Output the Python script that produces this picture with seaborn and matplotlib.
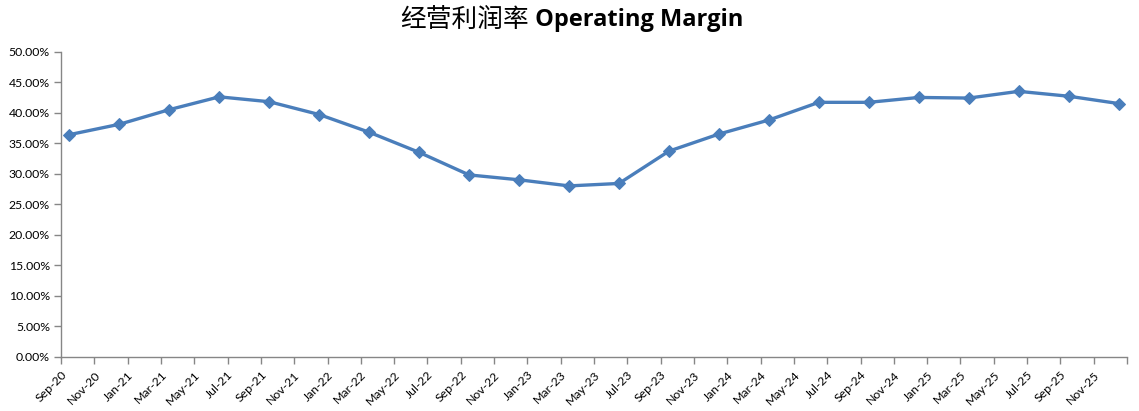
import matplotlib
matplotlib.use("Agg")
import matplotlib.pyplot as plt
import seaborn as sns
import pandas as pd
from matplotlib.ticker import PercentFormatter

# ---- data ----
quarters = ["2020-09", "2020-12", "2021-03", "2021-06", "2021-09", "2021-12",
            "2022-03", "2022-06", "2022-09", "2022-12", "2023-03", "2023-06",
            "2023-09", "2023-12", "2024-03", "2024-06", "2024-09", "2024-12",
            "2025-03", "2025-06", "2025-09", "2025-12"]
margin = [36.4, 38.1, 40.5, 42.6, 41.8, 39.7, 36.8, 33.5, 29.8, 29.0, 28.0, 28.4,
          33.7, 36.5, 38.8, 41.7, 41.7, 42.5, 42.4, 43.5, 42.7, 41.5]
tick_labels = ["Sep-20", "Nov-20", "Jan-21", "Mar-21", "May-21", "Jul-21", "Sep-21", "Nov-21",
               "Jan-22", "Mar-22", "May-22", "Jul-22", "Sep-22", "Nov-22", "Jan-23", "Mar-23",
               "May-23", "Jul-23", "Sep-23", "Nov-23", "Jan-24", "Mar-24", "May-24", "Jul-24",
               "Sep-24", "Nov-24", "Jan-25", "Mar-25", "May-25", "Jul-25", "Sep-25", "Nov-25"]
title_cn = "经营利润率"
title_en = "Operating Margin"

# month-bucket positions (Excel date axis, base unit = months)
start = pd.Period("2020-09", freq="M")
per = pd.PeriodIndex(quarters, freq="M")
df = pd.DataFrame({
    "x": [(p - start).n + 0.5 for p in per],
    "margin": margin,
})
n_months = (pd.Period("2025-12", freq="M") - start).n + 1

sns.set_theme(style="white")
plt.rcParams["font.family"] = ["Lato", "DejaVu Sans"]

fig = plt.figure(figsize=(11.39, 4.11), dpi=100)
ax = fig.add_axes([61 / 1139, (411 - 356.7) / 411, (1127 - 61) / 1139, 305 / 411])

line_color = "#4A7EBB"
sns.lineplot(data=df, x="x", y="margin", ax=ax, color=line_color, linewidth=2.4,
             marker="D", markersize=6.5, markeredgecolor=line_color, markerfacecolor=line_color)

ax.set_xlim(0, n_months)
ax.set_ylim(0, 50)
ax.set_yticks(range(0, 51, 5))
ax.yaxis.set_major_formatter(PercentFormatter(decimals=2))
ax.set_xticks(range(0, n_months + 1, 2))
ax.set_xticklabels(tick_labels + [""], rotation=45, ha="right", rotation_mode="anchor")
ax.set_xlabel("")
ax.set_ylabel("")

for s in ["top", "right"]:
    ax.spines[s].set_visible(False)
for s in ["left", "bottom"]:
    ax.spines[s].set_color("#868686")
    ax.spines[s].set_linewidth(1.0)
ax.tick_params(axis="both", which="major", direction="out", length=5, width=1,
               color="#868686", labelsize=8.8, labelcolor="#000000", pad=3,
               left=True, bottom=True)
ax.tick_params(axis="x", pad=4)
ax.grid(False)

# title: Chinese part (regular) + English part (bold)
t1 = fig.text(400 / 1139, 1 - 20 / 411, title_cn, ha="left", va="center",
              fontsize=18.5, family=["Noto Sans CJK SC", "DejaVu Sans"], color="#000000")
ax.annotate(" " + title_en, xy=(1, 0.5), xycoords=t1, va="center", ha="left",
            fontsize=17, fontweight="bold", family=["Open Sans", "DejaVu Sans"],
            color="#000000", annotation_clip=False)

fig.savefig("out.png", dpi=100)
